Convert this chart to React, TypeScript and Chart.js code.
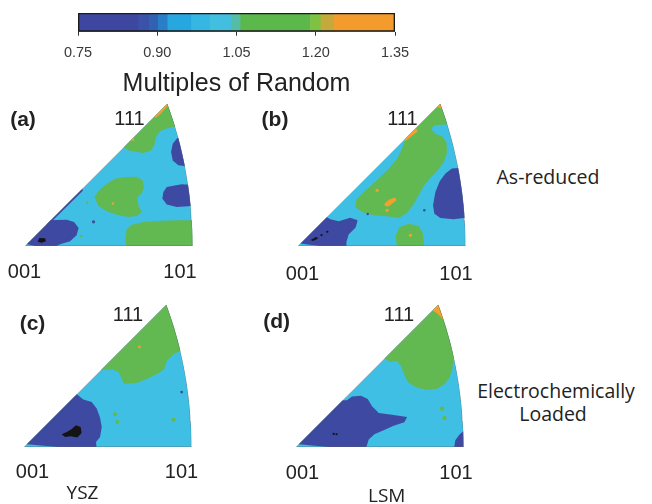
import React, { useEffect, useRef } from 'react';
import { Chart, registerables } from 'chart.js';

Chart.register(...registerables);

// ---------------- colour bar ----------------
const cbTicks = [0.75, 0.9, 1.05, 1.2, 1.35];
const cbBandStart = [0.75, 0.865, 0.885, 0.902, 0.92, 0.965, 1.0, 1.04, 1.058, 1.19, 1.21, 1.235];
const cbBandEnd = [0.865, 0.885, 0.902, 0.92, 0.965, 1.0, 1.04, 1.058, 1.19, 1.21, 1.235, 1.35];
const cbBandColor = ['#3e479f', '#3a52a8', '#3162b2', '#2a7dc7', '#26a7e0', '#36b6e3', '#42bedf', '#55bca6', '#5db84b', '#7fc243', '#c4aa3b', '#f39c2d'];
const cbTitle = 'Multiples of Random';

// ---------------- MRD level colours ----------------
const LOW = '#3e4aa2';   // 0.75 - 0.90
const MID = '#40bfe4';   // 0.90 - 1.05
const HIGH = '#62b951';  // 1.05 - 1.20
const TOP = '#f2a030';   // > 1.20
const MIN = '#141414';   // < 0.75

type Pt = [number, number];

// IPF boundary: great circle [101] -> [111], parameter t in [1 t 1]
const arcT = [0, 0.05, 0.1, 0.15, 0.2, 0.25, 0.3, 0.35, 0.4, 0.45, 0.5, 0.55, 0.6, 0.65, 0.7, 0.75, 0.8, 0.85, 0.9, 0.95, 1];

// ---------------- panel (a) YSZ as-reduced ----------------
const aGreenTop: Pt[] = [[56.7, 60.1], [62.3, 56.9], [70.6, 55.5], [75.0, 56.9], [77.2, 60.1], [78.2, 65.1], [80.6, 68.5], [84.6, 70.2], [89.6, 71.4], [96.5, 72.4], [96.5, 86], [80.6, 86]];
const aOrangeApex: Pt[] = [[77, 77.5], [84.5, 85.5], [86, 84.5], [81, 79], [78, 76.5]];
const aBlueTopRight: Pt[] = [[90.9, 64.5], [88.2, 61.1], [87.2, 56.1], [88.2, 51.1], [91.5, 48.2], [95.1, 47.8], [101.5, 49.2], [101.5, 65.1]];
const aBlueMidRight: Pt[] = [[84.6, 35.2], [82.6, 32.2], [82.0, 28.3], [84.6, 24.7], [90.5, 23.3], [97.5, 23.7], [102.5, 24.3], [102.5, 36.2], [93.5, 36.8]];
const aGreenMid: Pt[] = [[41.4, 29.3], [44.8, 33.8], [48.8, 37.2], [53.7, 40.2], [59.7, 41.2], [66.7, 41.4], [70.2, 39.2], [71.0, 35.2], [69.7, 31.2], [67.1, 29.3], [67.7, 24.3], [69.7, 20.3], [66.7, 17.9], [61.7, 17.3], [54.7, 18.7], [48.8, 20.7], [43.8, 23.9]];
const aGreenBottom: Pt[] = [[60.3, -2], [59.9, 5.4], [60.7, 10.0], [63.7, 12.7], [70.6, 14.3], [80.6, 15.1], [92.5, 15.3], [102.5, 15.3], [102.5, -2]];
const aBlueCorner: Pt[] = [[-3, 2], [12.9, 15.3], [18.9, 15.5], [24.9, 15.7], [29.3, 14.3], [32.0, 10.7], [30.8, 6.4], [26.9, 2.8], [20.9, 1.0], [14.9, -2]];
const aBlueEdge: Pt[] = [[12, 13.5], [34, 35.5], [34.5, 33], [13.5, 12.2]];
const aBlackSpot: Pt[] = [[7.5, 2.5], [8.5, 4.8], [12, 4.6], [12.5, 2.8], [10, 2]];
const aOrangeSpecks: Pt[] = [[52.5, 25.3], [64.5, 63.5]];
const aBlueSpecks: Pt[] = [[40.9, 14.4]];
const aGreenSpecks: Pt[] = [[33.4, 5.8], [37.2, 25.7]];

// ---------------- panel (b) LSM as-reduced ----------------
const bGreenBig: Pt[] = [[65.1, 68.1], [86.0, 88.0], [95.9, 88.0], [95.9, 73.0], [85.0, 72.4], [80.6, 71.6], [79.8, 69.3], [82.2, 66.9], [86.0, 65.7], [88.6, 62.1], [89.0, 56.1], [87.0, 50.1], [83.4, 45.2], [79.0, 40.6], [75.0, 35.8], [72.0, 30.2], [68.7, 24.3], [65.1, 19.9], [60.1, 16.7], [53.1, 17.7], [45.2, 18.3], [38.2, 20.3], [34.2, 23.3], [34.8, 27.9], [38.8, 31.8], [44.2, 36.6], [50.1, 42.2], [55.1, 47.2], [59.1, 52.1], [62.1, 58.1], [63.5, 62.5]];
const bBlueRight: Pt[] = [[91.9, 46.2], [88.0, 43.2], [84.6, 38.6], [82.0, 32.2], [80.6, 24.3], [81.4, 19.3], [85.0, 16.7], [92.9, 15.9], [98.9, 16.7], [103.9, 16.7], [103.9, 47.2]];
const bBlueCorner: Pt[] = [[-3, 2], [15.3, 18.3], [19.3, 15.9], [24.3, 14.7], [31.2, 16.9], [35.6, 15.3], [34.4, 11.1], [30.2, 6.8], [28.9, 2.4], [28.9, -2]];
const bGreenDome: Pt[] = [[59.1, -2], [58.3, 6.4], [60.7, 11.3], [66.1, 13.3], [72.0, 11.9], [74.6, 7.4], [75.4, -2]];
const bOrangeApex: Pt[] = [[83, 83], [86, 86.5], [88, 86], [86, 82]];
const bOrangeEdge: Pt[] = [[63, 65], [70, 71], [71.5, 68.5], [64, 62.5]];
const bOrangeBlob: Pt[] = [[51.5, 25], [54, 27.5], [57.5, 29], [59, 27.5], [56.5, 25.5], [54, 23.5], [52, 23.8]];
const bBlackSpot: Pt[] = [[7.5, 3.5], [11, 5.5], [12, 4.5], [9, 3]];
const bOrangeSpecks: Pt[] = [[53.2, 21.3], [47.2, 33.2], [67.1, 6.4]];
const bBlueSpecks: Pt[] = [[41.6, 19.1], [75.4, 21.3], [86.6, 39.8]];
const bBlackSpecks: Pt[] = [[14, 6.5], [17.5, 8.5]];

// ---------------- panel (c) YSZ loaded ----------------
const cGreenTop: Pt[] = [[45.0, 45.8], [53.3, 46.2], [56.5, 44.6], [58.3, 40.8], [59.7, 37.8], [67.3, 38.2], [73.2, 40.6], [79.2, 43.4], [83.6, 46.2], [85.2, 51.3], [89.2, 55.3], [94.1, 57.7], [105, 58.7], [105, 89.6], [83.2, 89.6]];
const cBlueCorner: Pt[] = [[-3, 2], [29.9, 32.8], [35.4, 28.3], [40.4, 26.9], [43.4, 22.9], [45.4, 17.5], [46.4, 11.9], [45.4, 6.0], [43.0, 3.0], [43.4, -2]];
const cBlackSpot: Pt[] = [[22.5, 7.6], [25.5, 9.0], [28.5, 10.7], [31.0, 12.9], [33.8, 11.9], [34.4, 8.4], [31.8, 5.6], [27.9, 6.4], [24.5, 6.0]];
const cOrangeSpecks: Pt[] = [[68.9, 59.7]];
const cGreenSpecks: Pt[] = [[54.3, 19.5], [55.7, 14.9], [89.2, 16.3]];
const cBlueSpecks: Pt[] = [[94.1, 32.8]];

// ---------------- panel (d) LSM loaded ----------------
const dGreenTop: Pt[] = [[51.3, 53.7], [56.3, 50.7], [60.3, 51.3], [62.7, 48.2], [64.7, 42.8], [67.3, 38.2], [72.2, 35.4], [78.2, 34.2], [84.2, 34.8], [88.6, 37.4], [91.7, 41.4], [93.3, 46.8], [94.5, 55.7], [97.1, 57.7], [102.1, 58.7], [102.1, 87.6], [80.2, 87.6]];
const dOrangeApex: Pt[] = [[81, 82], [84.5, 79.5], [87, 77], [89.5, 74], [95, 74], [95, 90], [81, 90]];
const dBlueCorner: Pt[] = [[-3, 2], [24.1, 27.9], [30.4, 27.9], [33.4, 30.2], [38.8, 30.6], [42.8, 28.7], [45.4, 24.3], [49.4, 20.3], [58.3, 19.1], [66.3, 17.9], [64.7, 14.7], [58.3, 12.7], [52.3, 10.0], [46.8, 7.6], [43.4, 4.4], [41.4, -2]];
const dBlueRightCorner: Pt[] = [[94.1, -2], [95.1, 4.0], [97.7, 7.6], [101.1, 10.3], [104, 10.3], [104, -2]];
const dGreenSpecks: Pt[] = [[87.2, 22.9], [88.6, 17.3]];
const dBlackSpecks: Pt[] = [[22.5, 7.8], [24.2, 7.6]];

type Panel = { polys: [string, Pt[]][]; specks: [string, Pt[], number][] };

const panelA: Panel = {
  polys: [[HIGH, aGreenTop], [TOP, aOrangeApex], [LOW, aBlueTopRight], [LOW, aBlueMidRight], [HIGH, aGreenMid], [HIGH, aGreenBottom], [LOW, aBlueCorner], [LOW, aBlueEdge], [MIN, aBlackSpot]],
  specks: [[TOP, aOrangeSpecks, 1.3], [LOW, aBlueSpecks, 1.6], [HIGH, aGreenSpecks, 1.2]],
};
const panelB: Panel = {
  polys: [[HIGH, bGreenBig], [LOW, bBlueRight], [LOW, bBlueCorner], [HIGH, bGreenDome], [TOP, bOrangeApex], [TOP, bOrangeEdge], [TOP, bOrangeBlob], [MIN, bBlackSpot]],
  specks: [[TOP, bOrangeSpecks, 1.6], [LOW, bBlueSpecks, 1.2], [MIN, bBlackSpecks, 1.1]],
};
const panelC: Panel = {
  polys: [[HIGH, cGreenTop], [LOW, cBlueCorner], [MIN, cBlackSpot]],
  specks: [[TOP, cOrangeSpecks, 1.4], [HIGH, cGreenSpecks, 2], [LOW, cBlueSpecks, 1.4]],
};
const panelD: Panel = {
  polys: [[HIGH, dGreenTop], [TOP, dOrangeApex], [LOW, dBlueCorner], [LOW, dBlueRightCorner]],
  specks: [[HIGH, dGreenSpecks, 2.2], [MIN, dBlackSpecks, 1.1]],
};

// equal-area projection of a crystal direction, scaled so that [101] -> x = 100
function ipfProject(h: number, k: number, l: number) {
  const n = Math.hypot(h, k, l);
  const r = Math.sqrt(2 * (1 - l / n));
  const phi = Math.atan2(k, h);
  const s = 100 / Math.sqrt(2 * (1 - Math.SQRT1_2));
  return { x: r * Math.cos(phi) * s, y: r * Math.sin(phi) * s };
}
const outline = [ipfProject(0, 0, 1), ...arcT.map((t) => ipfProject(1, t, 1)), ipfProject(0, 0, 1)];

const SANS = "'Liberation Sans', Arial, Helvetica, sans-serif";
const CAL = "'Open Sans', 'DejaVu Sans', sans-serif";

const PX = 1.675; // px per data unit
const IPF_W = 178;
const IPF_H = 153;

function IpfTriangle({ panel, left, top }: { panel: Panel; left: number; top: number }) {
  const ref = useRef<HTMLCanvasElement>(null);
  useEffect(() => {
    const toXY = (pts: Pt[]) => pts.map(([x, y]) => ({ x, y }));
    const ds: any[] = [];
    ds.push({ data: outline, backgroundColor: MID, borderColor: 'rgba(0,0,0,0)', borderWidth: 0, fill: 'shape', pointRadius: 0 });
    for (const [color, pts] of panel.polys) {
      ds.push({ data: toXY(pts), backgroundColor: color, borderColor: 'rgba(0,0,0,0)', borderWidth: 0, fill: 'shape', pointRadius: 0 });
    }
    for (const [color, pts, r] of panel.specks) {
      ds.push({ data: toXY(pts), showLine: false, fill: false, pointRadius: r, pointBackgroundColor: color, pointBorderWidth: 0, pointBorderColor: color });
    }
    ds.push({ data: outline, fill: false, borderColor: 'rgba(95,95,95,0.55)', borderWidth: 1, pointRadius: 0 });
    ds.forEach((d, i) => { d.order = ds.length - i; d.tension = 0; });

    const clip = {
      id: 'ipfClip',
      beforeDatasetsDraw(chart: any) {
        const { ctx, scales } = chart;
        ctx.save();
        ctx.beginPath();
        outline.forEach((p, i) => {
          const px = scales.x.getPixelForValue(p.x);
          const py = scales.y.getPixelForValue(p.y);
          if (i === 0) ctx.moveTo(px, py); else ctx.lineTo(px, py);
        });
        ctx.closePath();
        ctx.clip();
      },
      afterDatasetsDraw(chart: any) {
        chart.ctx.restore();
      },
    };

    const chart = new Chart(ref.current as HTMLCanvasElement, {
      type: 'line',
      data: { datasets: ds },
      options: {
        responsive: false,
        animation: false,
        events: [],
        layout: { padding: 0, autoPadding: false },
        plugins: { legend: { display: false }, tooltip: { enabled: false } },
        scales: {
          x: { type: 'linear', display: false, min: -3, max: -3 + IPF_W / PX },
          y: { type: 'linear', display: false, min: -3, max: -3 + IPF_H / PX },
        },
      },
      plugins: [clip],
    } as any);
    return () => chart.destroy();
  }, [panel]);
  return <canvas ref={ref} width={IPF_W} height={IPF_H} style={{ position: 'absolute', left, top, width: IPF_W, height: IPF_H }} />;
}

function ColorBar() {
  const ref = useRef<HTMLCanvasElement>(null);
  useEffect(() => {
    const ds: any[] = cbBandStart.map((s, i) => ({
      data: [[s, cbBandEnd[i]]],
      backgroundColor: cbBandColor[i],
      borderWidth: 0,
      grouped: false,
      barPercentage: 1,
      categoryPercentage: 1,
    }));
    ds.push({
      data: [[cbTicks[0], cbTicks[cbTicks.length - 1]]],
      backgroundColor: 'rgba(0,0,0,0)',
      borderColor: '#1b1b1b',
      borderWidth: 1,
      borderSkipped: false,
      grouped: false,
      barPercentage: 1,
      categoryPercentage: 1,
    });
    ds.forEach((d, i) => { d.order = ds.length - i; });
    const chart = new Chart(ref.current as HTMLCanvasElement, {
      type: 'bar',
      data: { labels: [''], datasets: ds },
      options: {
        indexAxis: 'y',
        responsive: false,
        animation: false,
        events: [],
        layout: { padding: { left: 38, right: 45, top: 13, bottom: 1.5 }, autoPadding: false },
        plugins: {
          legend: { display: false },
          tooltip: { enabled: false },
          title: {
            display: true,
            position: 'bottom',
            text: cbTitle,
            font: { family: SANS, size: 25, weight: 'normal', lineHeight: 1 },
            color: '#222',
            padding: { top: 0.8, bottom: 2 },
          },
        },
        scales: {
          x: {
            type: 'linear',
            min: cbTicks[0],
            max: cbTicks[cbTicks.length - 1],
            afterBuildTicks: (scale: any) => { scale.ticks = cbTicks.map((v) => ({ value: v })); },
            ticks: {
              callback: (v: any) => Number(v).toFixed(2),
              font: { family: SANS, size: 14.5 },
              color: '#3a3a3a',
              padding: 8.8,
              maxRotation: 0,
              autoSkip: false,
            },
            grid: { drawOnChartArea: false, drawTicks: true, tickLength: 4, color: '#333', lineWidth: 1 },
            border: { display: false },
          },
          y: { display: false },
        },
      },
    } as any);
    return () => chart.destroy();
  }, []);
  return <canvas ref={ref} width={400} height={100} style={{ position: 'absolute', left: 40, top: 0, width: 400, height: 100 }} />;
}

type Lbl = { t: string; x: number; y: number; f: string; s: number; w?: number };
const labels: Lbl[] = [
  { t: '(a)', x: 23, y: 118, f: SANS, s: 21, w: 700 },
  { t: '111', x: 129.5, y: 117.5, f: SANS, s: 20 },
  { t: '001', x: 24.5, y: 271, f: SANS, s: 20 },
  { t: '101', x: 180, y: 271, f: SANS, s: 20 },
  { t: '(b)', x: 275, y: 118, f: SANS, s: 21, w: 700 },
  { t: '111', x: 402.5, y: 117.5, f: SANS, s: 20 },
  { t: '001', x: 302.5, y: 272.5, f: SANS, s: 20 },
  { t: '101', x: 456, y: 272.5, f: SANS, s: 20 },
  { t: '(c)', x: 32.5, y: 321.5, f: SANS, s: 21, w: 700 },
  { t: '111', x: 128, y: 314, f: SANS, s: 20 },
  { t: '001', x: 32.5, y: 470.7, f: SANS, s: 20 },
  { t: '101', x: 181.5, y: 470.7, f: SANS, s: 20 },
  { t: 'YSZ', x: 82.5, y: 492, f: CAL, s: 19 },
  { t: '(d)', x: 276.7, y: 320, f: SANS, s: 21, w: 700 },
  { t: '111', x: 399, y: 314, f: SANS, s: 20 },
  { t: '001', x: 302.5, y: 472.3, f: SANS, s: 20 },
  { t: '101', x: 456, y: 472, f: SANS, s: 20 },
  { t: 'LSM', x: 386.7, y: 495, f: CAL, s: 19 },
  { t: 'As-reduced', x: 548, y: 176.7, f: CAL, s: 19.5 },
  { t: 'Electrochemically', x: 556, y: 390.7, f: CAL, s: 19.5 },
  { t: 'Loaded', x: 553, y: 414, f: CAL, s: 19.5 },
];

export default function App() {
  return (
    <div style={{ position: 'absolute', left: 0, top: 0, width: 652, height: 504, background: '#fff', overflow: 'hidden' }}>
      <ColorBar />
      <IpfTriangle panel={panelA} left={20} top={98} />
      <IpfTriangle panel={panelB} left={293} top={98} />
      <IpfTriangle panel={panelC} left={19} top={299} />
      <IpfTriangle panel={panelD} left={291} top={299} />
      {labels.map((l, i) => (
        <div
          key={i}
          style={{
            position: 'absolute',
            left: l.x,
            top: l.y,
            transform: 'translate(-50%, -50%)',
            whiteSpace: 'nowrap',
            lineHeight: 1,
            fontFamily: l.f,
            fontSize: l.s,
            fontWeight: l.w || 400,
            color: '#222',
          }}
        >
          {l.t}
        </div>
      ))}
    </div>
  );
}
